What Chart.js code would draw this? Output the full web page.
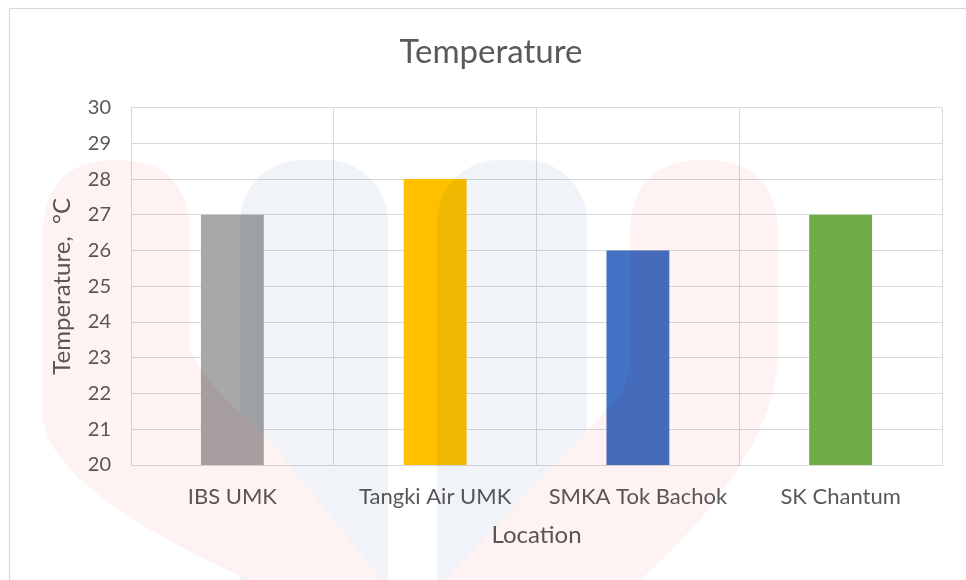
<!DOCTYPE html>
<html>
<head>
<meta charset="utf-8">
<title>Temperature</title>
<script src="https://cdn.jsdelivr.net/npm/chart.js@4.4.1/dist/chart.umd.min.js"></script>
<style>
  html, body { margin: 0; padding: 0; background: #ffffff; }
  #wrap { width: 966px; height: 580px; }
</style>
</head>
<body>
<div id="wrap"><canvas id="chart" width="966" height="580"></canvas></div>
<script>
// Measured water temperature per sampling site
const locations = ['IBS UMK', 'Tangki Air UMK', 'SMKA Tok Bachok', 'SK Chantum'];
const temperatures = [27, 28, 26, 27];
const yMin = 20;
const yMax = 30;
const yStep = 1;

// Office-style palette, one colour per site
const barColors = ['#A8A8A8', '#FFC000', '#4472C4', '#70AD47'];

const TEXT = '#595959';
const GRID = '#D9D9D9';
const FONT = 'Lato, "Open Sans", sans-serif';

// White page with the thin frame of the chart box
const framePlugin = {
  id: 'frame',
  beforeDraw(chart) {
    const { ctx, width, height } = chart;
    ctx.save();
    ctx.fillStyle = '#ffffff';
    ctx.fillRect(0, 0, width, height);
    ctx.strokeStyle = '#D6D6D6';
    ctx.lineWidth = 1;
    ctx.beginPath();
    ctx.moveTo(9.5, height);
    ctx.lineTo(9.5, 8.5);
    ctx.lineTo(width, 8.5);
    ctx.stroke();
    ctx.restore();
  }
};

// Faint heart-and-hands logo printed across the plot
const logoPlugin = {
  id: 'logo',
  afterDatasetsDraw(chart) {
    const { ctx } = chart;
    ctx.save();
    ctx.globalCompositeOperation = 'multiply';

    // two pale red lobes leaning towards each other
    const lobes = new Path2D();
    lobes.moveTo(43, 235);
    lobes.quadraticCurveTo(43, 160, 116, 160);
    lobes.quadraticCurveTo(190, 160, 190, 235);
    lobes.lineTo(190, 350);
    lobes.quadraticCurveTo(205, 385, 264, 433);
    lobes.lineTo(398, 600);
    lobes.lineTo(295, 600);
    lobes.quadraticCurveTo(55, 500, 43, 420);
    lobes.closePath();
    lobes.moveTo(630, 235);
    lobes.quadraticCurveTo(630, 160, 704, 160);
    lobes.quadraticCurveTo(778, 160, 778, 235);
    lobes.lineTo(778, 360);
    lobes.quadraticCurveTo(770, 470, 618, 600);
    lobes.lineTo(425, 600);
    lobes.lineTo(607, 410);
    lobes.quadraticCurveTo(630, 388, 630, 360);
    lobes.closePath();

    // two pale blue columns, kept out from under the red lobes
    ctx.save();
    const outside = new Path2D();
    outside.rect(0, 0, chart.width, chart.height);
    outside.addPath(lobes);
    ctx.clip(outside, 'evenodd');
    ctx.fillStyle = 'rgb(240,244,248)';
    ctx.beginPath();
    ctx.roundRect(240, 160, 148, 470, [62, 62, 0, 0]);
    ctx.roundRect(437, 160, 150, 470, [62, 62, 0, 0]);
    ctx.fill();
    ctx.restore();

    ctx.fillStyle = 'rgb(254,242,242)';
    ctx.fill(lobes);

    ctx.restore();
  }
};

new Chart(document.getElementById('chart'), {
  type: 'bar',
  data: {
    labels: locations,
    datasets: [{
      label: 'Temperature',
      data: temperatures,
      backgroundColor: barColors,
      borderWidth: 0,
      barPercentage: 0.31,
      categoryPercentage: 1.0
    }]
  },
  plugins: [framePlugin, logoPlugin],
  options: {
    responsive: false,
    animation: false,
    devicePixelRatio: 1,
    layout: { padding: { left: 40, right: 24, top: 0, bottom: 0 } },
    plugins: {
      legend: { display: false },
      tooltip: { enabled: false },
      title: {
        display: true,
        text: 'Temperature',
        color: TEXT,
        font: { family: FONT, size: 33, weight: 'normal' },
        padding: { top: 33, bottom: 35 }
      }
    },
    scales: {
      x: {
        grid: { color: GRID, lineWidth: 1, drawTicks: false, offset: true },
        border: { color: GRID },
        ticks: {
          color: TEXT,
          font: { family: FONT, size: 22 },
          padding: 19,
          maxRotation: 0,
          autoSkip: false
        },
        title: {
          display: true,
          text: 'Location',
          color: TEXT,
          font: { family: FONT, size: 24 },
          padding: { top: 0, bottom: 30 }
        },
        afterFit(scale) { scale.height = 115; }
      },
      y: {
        min: yMin,
        max: yMax,
        grid: { color: GRID, lineWidth: 1, drawTicks: false },
        border: { color: GRID },
        ticks: {
          stepSize: yStep,
          color: TEXT,
          font: { family: FONT, size: 20 },
          padding: 20
        },
        title: {
          display: true,
          text: 'Temperature,  °C',
          color: TEXT,
          font: { family: FONT, size: 24 },
          padding: { top: 8, bottom: 0 }
        },
        afterFit(scale) { scale.width = 91; }
      }
    }
  }
});
</script>
</body>
</html>
